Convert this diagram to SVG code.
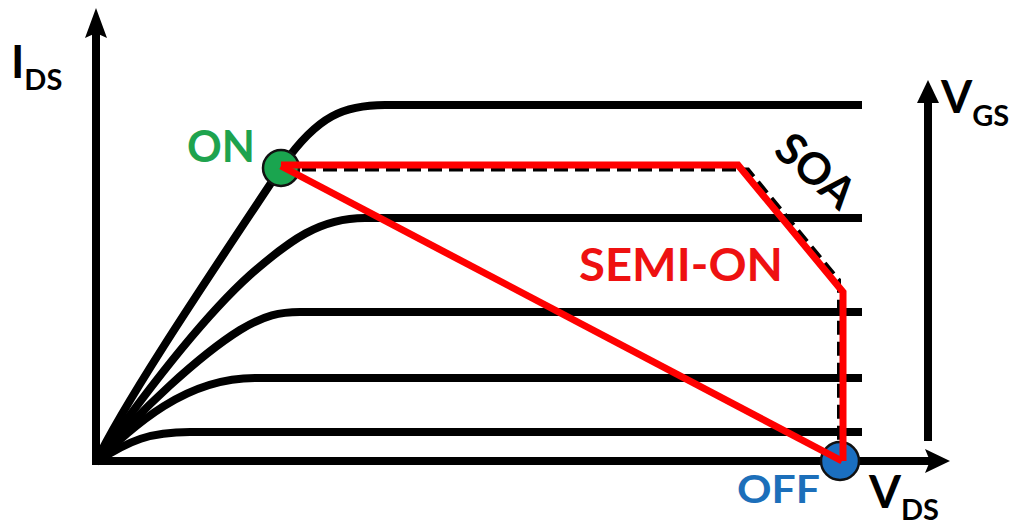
<svg xmlns="http://www.w3.org/2000/svg" width="1019" height="525" viewBox="0 0 1019 525">
  <style>
    .axis { stroke: #000; stroke-width: 8; fill: none; }
    .curve { stroke: #000; stroke-width: 8; fill: none; stroke-linejoin: round; }
    .soa { stroke: #000; stroke-width: 4; fill: none; stroke-dasharray: 14 7; }
    .path { stroke: #ff0000; stroke-width: 7; fill: none; stroke-linejoin: miter; }
    .lbl { font-family: Lato, "Open Sans", "Liberation Sans", sans-serif; font-weight: 700; }
    .head { fill: #000; }
  </style>
  <rect width="1019" height="525" fill="#fff"/>

  <!-- axes -->
  <g id="axes">
    <line class="axis" x1="96" y1="465" x2="96" y2="30"/>
    <path class="head" d="M96,8 L107,38 L96,33 L85,38 Z"/>
    <line class="axis" x1="92" y1="461" x2="932" y2="461"/>
    <path class="head" d="M950,461 L925,449 L930,461 L925,473 Z"/>
    <line class="axis" x1="928" y1="441" x2="928" y2="98"/>
    <path class="head" d="M928,80 L939,103 L917,103 Z"/>
  </g>

  <!-- output characteristic curves -->
  <g id="curves">
    <path class="curve" d="M96,462 C125,400 220,260 283,165 C318,115 345,105 385,105 H862"/>
    <path class="curve" d="M96,462 C140,400 200,320 250,275 C290,240 320,218 365,218 H862"/>
    <path class="curve" d="M96,462 C140,410 200,355 240,330 C265,315 280,312 300,312 H862"/>
    <path class="curve" d="M96,462 C135,425 185,378 255,378 H862"/>
    <path class="curve" d="M96,462 C130,440 150,432 190,432 H862"/>
  </g>

  <!-- safe operating area boundary -->
  <g id="soa-boundary">
    <path class="soa" d="M281,169.5 H748 L839,280 V460"/>
  </g>

  <!-- operating points -->
  <g id="node-on">
    <circle cx="281" cy="168" r="18" fill="#1aa54f" stroke="#111" stroke-width="2.5"/>
    <text class="lbl" x="187" y="162" font-size="44" fill="#1ea34e" textLength="68" lengthAdjust="spacingAndGlyphs">ON</text>
  </g>

  <g id="node-off">
    <circle cx="840" cy="461" r="19" fill="#1b6fc0" stroke="#111" stroke-width="2.5"/>
    <text class="lbl" x="737" y="503" font-size="39" fill="#1c6fba" textLength="83" lengthAdjust="spacingAndGlyphs">OFF</text>
  </g>

  <!-- switching trajectories, drawn over the points -->
  <g id="connectors">
    <path class="path" d="M281,165 H738 L843,292 V461"/>
    <line class="path" x1="281" y1="166" x2="842" y2="461"/>
  </g>

  <g id="label-semi-on">
    <text class="lbl" x="579" y="281" font-size="45" fill="#ee1111" textLength="204" lengthAdjust="spacingAndGlyphs">SEMI-ON</text>
  </g>

  <g id="label-soa">
    <text class="lbl" x="0" y="0" font-size="44" fill="#000" transform="translate(772,153) rotate(41)">SOA</text>
  </g>

  <g id="label-ids">
    <text class="lbl" x="11" y="78" font-size="45" fill="#000">I<tspan font-size="29" dy="12">DS</tspan></text>
  </g>
  <g id="label-vds">
    <text class="lbl" x="869" y="508" font-size="46" fill="#000">V<tspan font-size="29" dy="12">DS</tspan></text>
  </g>
  <g id="label-vgs">
    <text class="lbl" x="941" y="113" font-size="45" fill="#000">V<tspan font-size="29" dy="13">GS</tspan></text>
  </g>
</svg>
